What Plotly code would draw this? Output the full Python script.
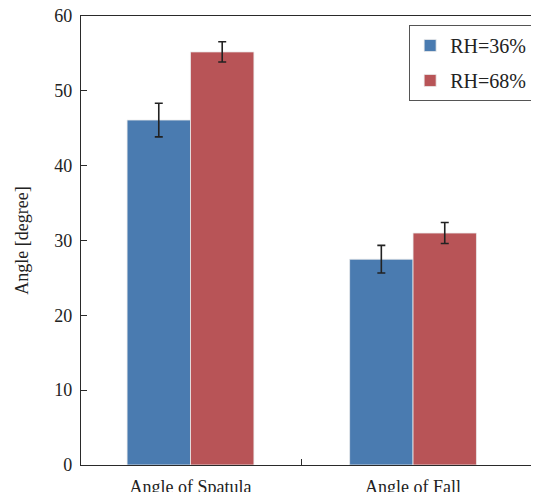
import plotly.graph_objects as go

categories = ["Angle of Spatula", "Angle of Fall"]
series_names = ["RH=36%", "RH=68%"]
rh36_values = [46.1, 27.5]
rh36_errors = [2.25, 1.85]
rh68_values = [55.2, 31.0]
rh68_errors = [1.35, 1.4]
y_ticks = [0, 10, 20, 30, 40, 50, 60]

colors = ["#4a7bb0", "#b85457"]
x_pos = list(range(len(categories)))

FONT = "Liberation Serif, Times New Roman, serif"
AX = "#2a2a2a"

fig = go.Figure()
for name, vals, errs, col in [
    (series_names[0], rh36_values, rh36_errors, colors[0]),
    (series_names[1], rh68_values, rh68_errors, colors[1]),
]:
    fig.add_trace(go.Bar(
        x=x_pos, y=vals, name=name, legendgroup=name,
        marker=dict(color=col, line=dict(color="rgba(235,235,235,0.8)", width=1)),
        error_y=dict(type="data", array=errs, color="#222222", thickness=1.6, width=4),
    ))

fig.update_layout(
    width=531, height=484,
    margin=dict(l=73, r=0, t=8, b=27, autoexpand=False),
    paper_bgcolor="white", plot_bgcolor="white",
    barmode="group", bargap=0.43, bargroupgap=0,
    font=dict(family=FONT, size=18, color="#222222"),
    showlegend=True,
    legend=dict(
        x=0.985, xanchor="right", y=0.98, yanchor="top",
        bordercolor="#555555", borderwidth=1, bgcolor="white",
        font=dict(size=20, family=FONT, color="#222222"),
        tracegroupgap=6, itemwidth=30,
    ),
)
fig.update_xaxes(
    range=[-0.492, 1.566], automargin=False,
    tickmode="array", tickvals=x_pos, ticktext=categories, ticks="",
    showline=True, linecolor=AX, linewidth=1.3, mirror=True,
    showgrid=False, zeroline=False,
    ticklabeloverflow="allow", ticklabelstandoff=5,
    minor=dict(tickmode="array", tickvals=[0.5], ticks="inside", ticklen=6,
               tickcolor=AX, tickwidth=1.3, showgrid=False),
    tickfont=dict(size=18, family=FONT),
)
fig.update_yaxes(
    range=[0, 60], tickmode="array", tickvals=y_ticks, automargin=False,
    ticks="inside", ticklen=6, tickcolor=AX, tickwidth=1.3,
    showline=True, linecolor=AX, linewidth=1.3,
    showgrid=False, zeroline=False,
    ticklabelstandoff=4, ticklabeloverflow="allow",
    title=dict(text="Angle [degree]", font=dict(size=18, family=FONT), standoff=20),
    tickfont=dict(size=18, family=FONT),
)

fig.write_html("out.html")
